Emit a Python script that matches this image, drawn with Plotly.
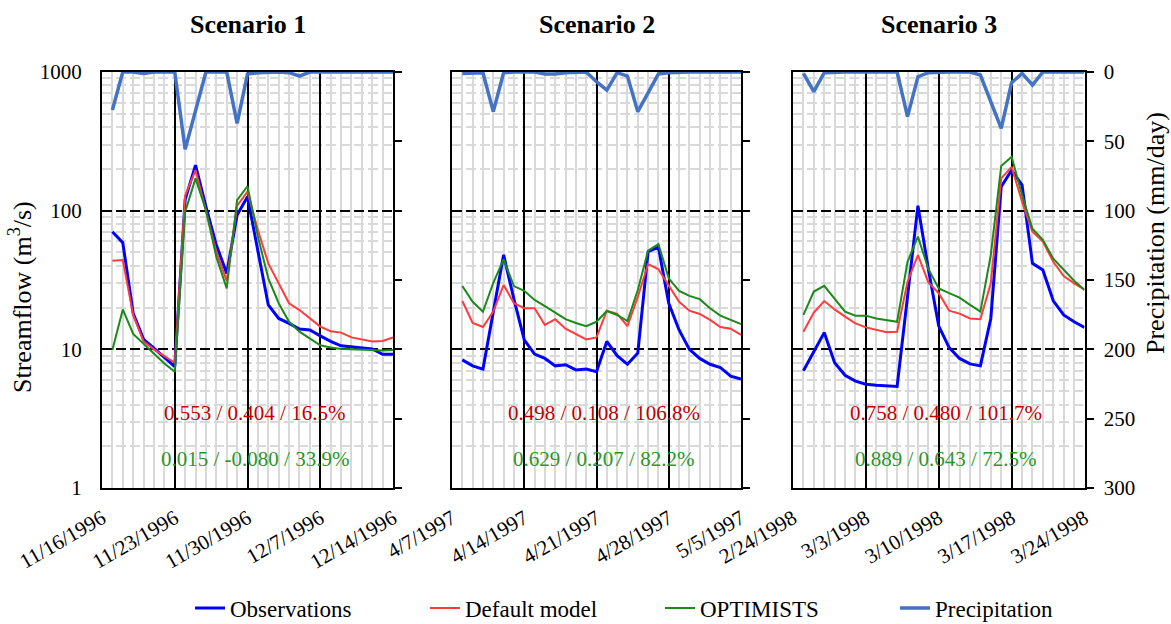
import pandas as pd
import plotly.graph_objects as go

W, H = 1171, 624

# ---------------- data ----------------
panel_titles = ["Scenario 1", "Scenario 2", "Scenario 3"]
range_starts = ["1996-11-16", "1997-04-07", "1998-02-24"]
range_ends = ["1996-12-14", "1997-05-05", "1998-03-24"]
series_starts = ["1996-11-17", "1997-04-08", "1998-02-25"]

obs1 = [70.5, 58.7, 18.2, 11.8, 10.2, 8.75, 7.5, 120, 213, 107, 56.5, 35.3, 93, 126,
        52, 20.9, 16.7, 15.4, 14.0, 13.8, 12.5, 11.4, 10.6, 10.4, 10.2, 10.05, 9.2, 9.2]
def1 = [43.5, 44, 17.7, 11.4, 10.0, 8.9, 8.0, 128, 196, 100, 50.6, 31.1, 108.6, 137,
        72.6, 41.7, 29.9, 21.5, 19.2, 16.7, 14.6, 13.5, 13.2, 12.2, 11.8, 11.4, 11.5, 12.2]
opt1 = [9.9, 19.4, 12.9, 11.0, 9.4, 7.9, 6.9, 98, 171, 101, 46.4, 27.5, 119, 150,
        65, 32.5, 21.5, 15.8, 13.4, 12.0, 10.7, 10.3, 10.05, 10.0, 9.9, 9.8, 9.8, 9.9]
prec1 = [27.4, 0, 0, 1, 0, 0, 0, 55.8, 27.4, 0, 0, 0, 37, 1.5,
         0.5, 0, 0, 0.5, 2.9, 0, 0, 0, 0, 0, 0, 0, 0, 0]

obs2 = [8.4, 7.6, 7.2, 18, 48, 23, 11.7, 9.25, 8.6, 7.6, 7.75, 7.1, 7.2, 6.9,
        11.4, 9.0, 7.8, 9.4, 50.6, 54.5, 21.5, 13.8, 10.0, 8.6, 7.8, 7.4, 6.4, 6.1]
def2 = [22.3, 15.5, 14.5, 18.7, 29.1, 21.5, 19.8, 19.8, 15.0, 16.5, 14.1, 12.9, 11.8, 12.2,
        19.0, 18.0, 14.7, 23.9, 41.2, 37.8, 29.1, 22.0, 19.0, 18.0, 16.3, 14.5, 14.1, 12.7]
opt2 = [28.6, 22.0, 18.7, 30.2, 44.6, 28.6, 26.4, 22.7, 20.5, 18.4, 16.5, 15.5, 14.7, 15.8,
        18.9, 17.7, 16.0, 26.8, 51.5, 57.4, 32.5, 26.4, 24.3, 23.0, 19.8, 17.5, 16.3, 15.2]
prec2 = [1, 0.5, 0.5, 28.6, 0.5, 0, 0, 0, 1.4, 1.4, 0.5, 0, 0, 7.0,
         13, 0.5, 2.9, 28.6, 14.7, 1.4, 0.5, 0, 0, 0, 0, 0, 0, 0]

obs3 = [7.0, 9.6, 13.2, 8.0, 6.5, 5.9, 5.6, 5.5, 5.44, 5.4, 24, 108.6, 38, 14.7,
        10.3, 8.6, 7.85, 7.6, 16.7, 149, 196, 153, 41.7, 37.3, 22.4, 17.7, 15.8, 14.4]
def3 = [13.4, 18.4, 22.3, 19.4, 17.2, 15.4, 14.4, 13.9, 13.3, 13.4, 30.7, 47.9, 30.4, 25.4,
        19.0, 18.1, 16.7, 16.5, 29.9, 171, 207, 116, 70.5, 59.8, 42.8, 33.8, 29.9, 27.0]
opt3 = [17.7, 26.1, 28.7, 23.3, 18.7, 17.5, 17.5, 16.7, 16.3, 15.8, 42.8, 65, 38, 27.5,
        25.4, 23.6, 20.9, 18.7, 48, 210, 245, 130, 74, 61.6, 45, 37.3, 31.2, 26.8]
prec3 = [1, 14.2, 0.5, 0, 0, 0, 0, 0, 0, 0, 32.2, 3.4, 0.5, 0,
         0, 0, 0, 2.2, 21.4, 40.6, 7.7, 1, 9.4, 0, 0, 0, 0, 0]

stats_default = ["0.553 / 0.404 / 16.5%", "0.498 / 0.108 / 106.8%", "0.758 / 0.480 / 101.7%"]
stats_optimists = ["0.015 / -0.080 / 33.9%", "0.629 / 0.207 / 82.2%", "0.889 / 0.643 / 72.5%"]

flow_ticks = [1, 10, 100, 1000]
precip_ticks = [0, 50, 100, 150, 200, 250, 300]

series_names = ["Observations", "Default model", "OPTIMISTS", "Precipitation"]
panels = [(obs1, def1, opt1, prec1), (obs2, def2, opt2, prec2), (obs3, def3, opt3, prec3)]

# ---------------- style ----------------
FONT = "Liberation Serif, Times New Roman, serif"
colors = ["#0000FF", "#FF3B3B", "#1A8A1A", "#4472C4"]
widths = [3, 2, 2, 3.5]
red_txt, green_txt = "#C00000", "#2A962A"

px_x = [(102, 393), (452, 741), (793, 1084.5)]
y_top, y_bot = 72, 488
ydom = [1 - y_bot / H, 1 - y_top / H]

minor_flow = [m * 10 ** e for e in range(3) for m in range(2, 10)]

fig = go.Figure()
layout = dict(
    width=W, height=H, autosize=False,
    margin=dict(l=0, r=0, t=0, b=0, autoexpand=False),
    paper_bgcolor="white", plot_bgcolor="white",
    font=dict(family=FONT, size=21, color="black"),
    showlegend=True,
)

annotations = []
for p in range(3):
    xa = "x" if p == 0 else f"x{p + 1}"
    ya_flow = "y" if p == 0 else f"y{2 * p + 1}"
    ya_prec = f"y{2 * p + 2}"
    xkey = "xaxis" if p == 0 else f"xaxis{p + 1}"
    yfk = "yaxis" if p == 0 else f"yaxis{2 * p + 1}"
    ypk = f"yaxis{2 * p + 2}"
    dates = pd.date_range(series_starts[p], periods=len(panels[p][0]))

    for k in range(3):
        fig.add_trace(go.Scatter(
            x=dates, y=panels[p][k], mode="lines", name=series_names[k],
            line=dict(color=colors[k], width=widths[k]),
            xaxis=xa, yaxis=ya_flow, showlegend=(p == 0), legendrank=k + 1,
        ))
    fig.add_trace(go.Scatter(
        x=dates, y=panels[p][3], mode="lines", name=series_names[3],
        line=dict(color=colors[3], width=widths[3]),
        xaxis=xa, yaxis=ya_prec, showlegend=(p == 0), legendrank=4,
    ))

    x0, x1 = px_x[p]
    layout[xkey] = dict(
        domain=[x0 / W, x1 / W], anchor=ya_flow, automargin=False,
        type="date", range=[range_starts[p], range_ends[p]],
        tick0=range_starts[p], dtick=7 * 86400000, tickformat="%-m/%-d/%Y",
        tickangle=-30, ticks="", tickfont=dict(size=21), ticklabelstandoff=8,
        showgrid=True, gridcolor="black", gridwidth=2,
        minor=dict(dtick=86400000, showgrid=True, gridcolor="#D9D9D9", gridwidth=1.5, ticks=""),
        showline=True, linecolor="black", linewidth=2, mirror=True,
        zeroline=False,
    )
    layout[yfk] = dict(
        domain=ydom, anchor=xa, type="log", range=[0, 3], automargin=False,
        tickmode="array", tickvals=flow_ticks, ticktext=[str(v) for v in flow_ticks],
        showticklabels=(p == 0), ticks="", ticklabelstandoff=14,
        tickfont=dict(size=21),
        showgrid=True, gridcolor="black", gridwidth=2, griddash="10px,4px",
        minor=dict(tickmode="array", tickvals=minor_flow, showgrid=True,
                   gridcolor="#D9D9D9", gridwidth=1.5, ticks=""),
        showline=True, linecolor="black", linewidth=2,
        zeroline=False,
    )
    layout[ypk] = dict(
        overlaying=ya_flow, anchor=xa, side="right", automargin=False,
        range=[300, 0], tickmode="array", tickvals=precip_ticks,
        showticklabels=(p == 2), ticks="outside", ticklen=7, tickwidth=2,
        tickcolor="black", ticklabelstandoff=6, tickfont=dict(size=21),
        showgrid=False, zeroline=False,
        showline=True, linecolor="black", linewidth=2,
    )

    cx = (x0 + x1) / 2
    annotations.append(dict(
        text=f"<b>{panel_titles[p]}</b>", x=cx / W, y=1 - 25 / H, xref="paper", yref="paper",
        showarrow=False, font=dict(size=26, family=FONT, color="black"),
        xanchor="center", yanchor="middle"))
    tx = cx + 7
    annotations.append(dict(
        text=stats_default[p], x=tx / W, y=1 - 413 / H, xref="paper", yref="paper",
        showarrow=False, font=dict(size=21, family=FONT, color=red_txt),
        xanchor="center", yanchor="middle"))
    annotations.append(dict(
        text=stats_optimists[p], x=tx / W, y=1 - 459 / H, xref="paper", yref="paper",
        showarrow=False, font=dict(size=21, family=FONT, color=green_txt),
        xanchor="center", yanchor="middle"))

annotations.append(dict(
    text="Streamflow (m<sup>3</sup>/s)", x=20 / W, y=1 - 297 / H, xref="paper", yref="paper",
    showarrow=False, textangle=-90, font=dict(size=26, family=FONT, color="black"),
    xanchor="center", yanchor="middle"))
annotations.append(dict(
    text="Precipitation (mm/day)", x=1155 / W, y=1 - 233 / H, xref="paper", yref="paper",
    showarrow=False, textangle=-90, font=dict(size=26, family=FONT, color="black"),
    xanchor="center", yanchor="middle"))

layout["annotations"] = annotations
layout["legend"] = dict(
    orientation="h", x=190 / W, y=1 - 608 / H, xanchor="left", yanchor="middle",
    font=dict(size=23, family=FONT, color="black"),
    entrywidth=190, entrywidthmode="pixels",
    bgcolor="rgba(0,0,0,0)", traceorder="normal",
)

fig.update_layout(**layout)
fig.write_html("out.html")
